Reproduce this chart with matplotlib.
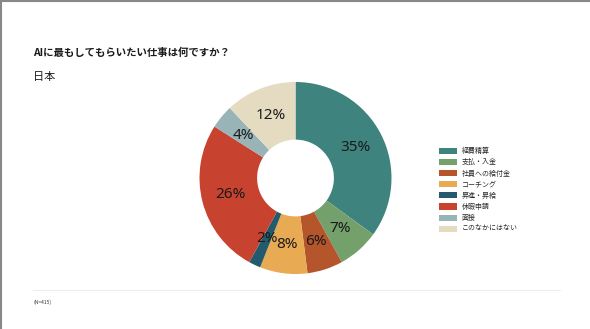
import matplotlib.pyplot as plt
from matplotlib.patches import Patch

plt.rcParams['font.family'] = ['Noto Sans CJK JP', 'DejaVu Sans']

# data
categories = ['経費精算', '支払・入金', '社員への給付金', 'コーチング',
              '昇進・昇給', '休暇申請', '面接', 'このなかにはない']
shares = [35, 7, 6, 8, 2, 26, 4, 12]
colors = ['#3f837e', '#74a06b', '#b5552b', '#e8aa52',
          '#235a6c', '#c8432f', '#98b4b6', '#e4dbc1']

fig = plt.figure(figsize=(5.9, 3.29), dpi=100)

# donut
ax = fig.add_axes([(295.5 - 96) / 590, (151 - 96) / 329, 192 / 590, 192 / 329])
wedges, texts, autotexts = ax.pie(
    shares, colors=colors, startangle=90, counterclock=False,
    radius=1.0, wedgeprops=dict(width=0.6, edgecolor='none'),
    autopct='%d%%', pctdistance=0.7,
    textprops=dict(fontsize=11, color='#1a1a1a', family=['Noto Sans', 'DejaVu Sans']))
ax.set_xlim(-1, 1)
ax.set_ylim(-1, 1)
ax.set_aspect('equal')
ax.axis('off')

# titles
fig.text(33 / 590, 1 - 53 / 329, 'AIに最もしてもらいたい仕事は何ですか？',
         fontsize=7.5, fontweight='bold', color='#1a1a1a', va='center', ha='left')
fig.text(33 / 590, 1 - 77 / 329, '日本', fontsize=8, color='#1a1a1a',
         va='center', ha='left')

# legend
handles = [Patch(facecolor=c, edgecolor='none') for c in colors]
fig.legend(handles, categories, loc='upper left',
           bbox_to_anchor=(433 / 590, 1 - 141 / 329), frameon=False,
           fontsize=5, handlelength=2.6, handleheight=1.0,
           labelspacing=0.45, handletextpad=0.6, labelcolor='#262626')

# footnote and divider
fig.add_artist(plt.Line2D([33 / 590, 560 / 590], [1 - 290 / 329, 1 - 290 / 329],
                          transform=fig.transFigure, color='#eeeeee', linewidth=0.8))
fig.text(33 / 590, 1 - 302 / 329, '(N=415)', fontsize=3.5, color='#333333',
         va='center', ha='left')

# slide frame (grey edge on top and left)
fig.add_artist(plt.Line2D([0, 1], [0.998, 0.998], transform=fig.transFigure,
                          color='#888888', linewidth=1.5))
fig.add_artist(plt.Line2D([0.001, 0.001], [0, 1], transform=fig.transFigure,
                          color='#888888', linewidth=1.5))

fig.savefig('out.png', dpi=100)
